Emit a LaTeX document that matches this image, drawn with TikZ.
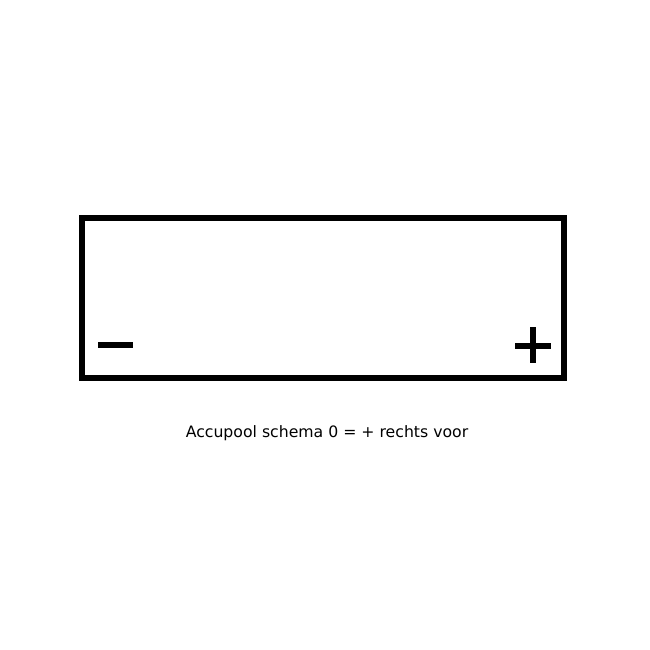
\documentclass[tikz,border=0pt]{standalone}
\usepackage{fontspec}
\setmainfont{DejaVu Sans}
\usepackage{tikz}

\begin{document}
\begin{tikzpicture}[x=1pt, y=-1pt]
    \useasboundingbox (0,0) rectangle (650,650);
    \draw[line width=5.5pt] (82,218) rectangle (564,378);
    \draw[line width=6pt] (98,345) -- (133,345);
    \draw[line width=6pt] (515,345.7) -- (551,345.7);
    \draw[line width=6pt] (533,327) -- (533,363);
    \node[font=\fontsize{15.7}{19}\selectfont] (caption) at (327,433) {Accupool schema 0 = + rechts voor};
\end{tikzpicture}
\end{document}
